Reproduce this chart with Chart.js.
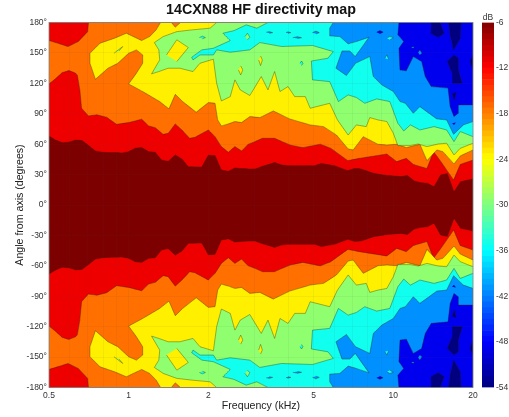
<!DOCTYPE html>
<html>
<head>
<meta charset="utf-8">
<title>14CXN88 HF directivity map</title>
<script src="https://cdn.jsdelivr.net/npm/chart.js@4"></script>
<style>
  html, body { margin: 0; padding: 0; background: #fff; }
  canvas { position: absolute; top: 0; filter: blur(0.35px); }
  #map { left: 0; }
  #bar { left: 470px; }
</style>
</head>
<body>
<canvas id="map" width="509" height="417"></canvas>
<canvas id="bar" width="39" height="417"></canvas>
<script>
// contour lines, [kHz, degrees], upper half only (the map is mirrored at 0 deg)
const darkRedEdge = [[.5,68],[.53,64],[.561,61.5],[.595,62],[.63,64],[.667,63.5],[.707,58.5],[.749,53.3],[.794,52],[.841,51.7],[.944,51.3],[1,52.6],[1.06,56],[1.12,56.6],[1.19,52.6],[1.26,52],[1.33,44.4],[1.41,43],[1.5,49.4],[1.59,45.4],[1.68,37.8],[1.89,37.5],[2,49],[2.12,48.7],[2.24,34.5],[2.38,33.2],[2.52,36.5],[2.67,35.9],[2.83,35.5],[3,35.5],[3.17,37.8],[3.56,41.8],[3.78,39.5],[4,38.8],[4.49,38.8],[5.04,38.8],[5.34,41],[5.99,38.8],[6.73,33.9],[7.13,35.9],[7.55,35.5],[8.48,31],[9.51,29],[10.68,28],[11.31,29],[11.99,23.7],[12.7,22],[13.45,21.4],[14.25,18],[15.1,29.6],[16,31],[16.95,13],[17.96,23],[20,25.7]];
const redEdge = [[.5,119.4],[.53,124.7],[.561,130.6],[.595,132.6],[.63,130],[.64,128],[.654,113.5],[.664,95.4],[.705,87.8],[.758,89],[.826,86.5],[.9,79.6],[1,81.3],[1.12,84.6],[1.19,78],[1.26,76.3],[1.35,69.7],[1.41,70.7],[1.5,80],[1.59,74],[1.7,65.8],[1.78,66.8],[2,74],[2.12,67.4],[2.24,57.6],[2.38,52],[2.52,57.6],[2.67,53.3],[2.83,60],[3,62.5],[3.2,65.8],[3.56,65.8],[3.8,62.5],[4.1,59],[4.55,56.6],[5.3,60],[5.8,56],[6.73,43.8],[7.45,46],[9.45,50.3],[10.3,42.8],[11.2,46],[11.9,40],[13.4,36],[14.2,52.6],[15.2,42],[16.9,24.7],[17.9,40],[20,44.4]];
const redCorner = [[.5,180],[.705,180],[.7,171],[.645,161.2],[.59,156.3],[.55,158.9],[.5,162.2]];
const yellowEdge = [[20,54.3],[17.9,48.4],[16.95,40.5],[15.4,52.6],[14.6,54.3],[13.4,43.8],[12.6,59.9],[11.2,56.6],[10.3,59.9],[9.45,59.2],[8.75,59.9],[7.7,67.4],[7.05,54.3],[6.75,55.3],[6.1,69],[5.45,77.3],[4.85,79],[4.06,84.9],[3.52,92.8],[3.13,86.2],[2.87,87.2],[2.67,81.3],[2.52,82.3],[2.38,80],[2.24,78],[2.17,83.9],[2.12,100.3],[2,101],[1.8,91.5],[1.6,102],[1.5,109.2],[1.42,94.8],[1.31,102],[1.13,111.9],[1,119.4],[1.07,130],[1.13,139.8],[1.13,148],[1.07,153],[1,149.7],[.91,139.8],[.835,134.9],[.749,124],[.714,139.8],[.714,149.7],[.78,159.6],[.885,164.5],[.98,169.4],[1.12,162.2],[1.2,166.1],[1.27,172.7],[1.32,180],[1.45,180],[1.5,175.4],[1.57,180],[20,180]];
const greenEdge = [[20,60.9],[17.9,55.9],[16.95,49.4],[15.9,60.9],[14.8,60.2],[13.4,57.6],[12.4,60.2],[11.6,58.6],[10.4,58.6],[10,70.7],[9.45,82.3],[8.75,83.9],[8.15,86.2],[7.9,77.3],[7.25,79],[6.75,69],[6.15,83.9],[5.75,100.3],[4.85,95.4],[4.65,106.9],[4.24,106.9],[4,116.8],[3.73,111.9],[3.56,131.6],[3.36,113.5],[3.17,126.7],[2.87,108],[2.64,113.5],[2.52,123.4],[2.42,106.9],[2.24,102.6],[2.15,120],[2.09,143.8],[1.86,139.8],[1.75,131.6],[1.56,134.9],[1.41,134.9],[1.3,131.6],[1.22,129.3],[1.31,143.1],[1.3,153],[1.25,160.2],[1.35,166.1],[1.52,171],[1.73,172.7],[2.03,174.4],[2.15,180],[20,180]];
const cyanEdge = [[20,67.4],[17.9,72.4],[16.95,62.5],[15.9,74],[14.25,77.3],[12.6,74],[11.6,79],[10.95,73],[10.4,80.6],[9.7,102],[8.65,104.6],[7.8,100.3],[7.25,106],[6.75,108.6],[6.2,102],[5.75,121.7],[4.95,123.4],[4.9,142],[5.66,144.8],[5.93,151.3],[4.95,157.3],[3.78,156.3],[3.13,160.2],[2.87,153],[2.42,150.7],[2.15,153],[2.09,148],[1.86,148],[1.75,143.1],[1.73,145.7],[1.89,153],[2.09,154.6],[2.42,162.2],[2.27,169.4],[2.5,172],[2.78,177.7],[3.05,174.4],[3.36,180],[20,180]];
const azureEdge = [[5.93,180],[5.75,174.4],[5.75,166.8],[6.28,166.1],[6.75,158.9],[7.25,161.2],[8.09,165.5],[7.18,146.4],[6.85,152],[6.4,152],[6.07,134.9],[6.65,127.7],[7.2,139.8],[8.15,146.4],[8.4,126.7],[9.05,118.4],[10,111.9],[10.6,102],[11.1,100.3],[11.9,90.5],[12.6,97],[14.6,84.9],[15.9,83.9],[16.9,69.7],[18.4,79],[20,82.3],[20,180]];
const blueEdge = [[10.5,180],[10.4,167.8],[10.95,161.2],[10.5,154.6],[10.6,133.2],[11.2,132.3],[11.9,146.4],[12.8,141.5],[13.2,126.7],[13.9,116.8],[16.1,115.2],[16.4,97],[16.95,87.2],[17.6,90.5],[17.6,98.7],[20,98.7],[20,180]];
const navyTop = [[13.85,169.4],[14.8,165.5],[15.55,169.4],[15,180],[13.9,180]];
const navyStem = [[16.2,180],[16.4,167.8],[16.9,153],[17.9,164.5],[18,180]];
const navyMid = [[16.7,120],[18.2,120],[17.6,133.2],[17.6,144.8],[16.95,148],[16,141.5],[16.7,130]];
const navyDot = [[16.7,110],[17,103.6],[17.3,111.2]];
const navyRight = [[20,133.2],[19.5,141.5],[20,148]];
// small closed contours
const yellowIslands = [[[1.39,148],[1.52,162.9],[1.68,155.3],[1.52,141.5]],[[2.65,137.2],[2.7,133.2],[2.65,128.3],[2.6,133.2]],[[3.15,147],[3.2,143],[3.15,137.5],[3.1,143]]];
const greenDots = [[[.88,149.7],[.95,156.3],[.92,152]]];
const greenIslands = [[[2.75,166],[2.81,169.4],[2.87,165.5],[2.81,162.9]]];
const cyanDots = [[[1.85,165.2],[1.9,166.5],[1.95,165.2],[1.9,163.9]],[[4.44,139.8],[4.5,142],[4.56,139.8],[4.5,137.5]]];
const cyanIslands = [[[9.45,164.5],[9.7,166.1],[10,165],[9.7,163]],[[9.3,144.8],[9.45,148],[9.6,143.5]]];
const azureIslands = [[[3.31,170.4],[3.4,171],[3.5,170],[3.4,169.4]],[[3.93,170],[4,170.8],[4.1,170],[4,169.4]],[[4.17,165],[4.35,166],[4.5,165],[4.35,164.3]],[[4.95,170],[5.1,171.5],[5.25,170],[5.1,168.8]],[[12.4,150.7],[12.6,153],[12.85,149.7],[12.6,148]],[[11.7,155.3],[11.9,156.3],[12,155],[11.85,154.5]]];
const blueIslands = [[[8.65,170.4],[8.9,172],[9.15,170.4],[8.9,168.8]],[[16.7,80.6],[16.95,79],[17.2,81.3]]];

const angleTicks = [-180,-150,-120,-90,-60,-30,0,30,60,90,120,150,180];
const freqTicks = [.5,.6,.7,.8,.9,1,2,3,4,5,6,7,8,9,10,20];
const freqLabels = [.5,1,2,5,10,20];
const barTicks = [-54,-48,-42,-36,-30,-24,-18,-12,-6];
const barLevels = [-54,-53.25,-52.5,-51.75,-51,-50.25,-49.5,-48.75,-48,-47.25,-46.5,-45.75,-45,-44.25,-43.5,-42.75,-42,-41.25,-40.5,-39.75,-39,-38.25,-37.5,-36.75,-36,-35.25,-34.5,-33.75,-33,-32.25,-31.5,-30.75,-30,-29.25,-28.5,-27.75,-27,-26.25,-25.5,-24.75,-24,-23.25,-22.5,-21.75,-21,-20.25,-19.5,-18.75,-18,-17.25,-16.5,-15.75,-15,-14.25,-13.5,-12.75,-12,-11.25,-10.5,-9.75,-9,-8.25,-7.5,-6.75,-6];

const C = { darkRed: '#7c0000', red: '#ee0000', orange: '#ff7000', yellow: '#fff000', green: '#8fff70', cyan: '#10ffee', azure: '#0090ff', blue: '#0000ee', navy: '#000080' };

// jet colormap for the colour bar
function jet(i) {
  const t = (i + 0.5) / 64;
  const f = c => Math.round(255 * Math.max(0, Math.min(1, 1.5 - Math.abs(4 * t - c))));
  return `rgb(${f(3)},${f(2)},${f(1)})`;
}

const mirror = pts => pts.map(([f, a]) => [f, -a]);
const closeToTop = pts => [[20, pts[pts.length - 1][1]], [20, 180], [.5, 180]];

// painted in this order, hot first, cooler regions on top
let layers = [[C.darkRed, [[.5,-180],[20,-180],[20,180],[.5,180]]]];
const add = (color, pts) => { layers.push([color, pts]); layers.push([color, mirror(pts)]); };
add(C.red, darkRedEdge.concat(closeToTop(darkRedEdge)));
add(C.orange, redEdge.concat(closeToTop(redEdge)));
add(C.red, redCorner);
add(C.yellow, yellowEdge);
greenDots.forEach(p => add(C.green, p));
add(C.green, greenEdge);
yellowIslands.forEach(p => add(C.yellow, p));
cyanDots.forEach(p => add(C.cyan, p));
add(C.cyan, cyanEdge);
greenIslands.forEach(p => add(C.green, p));
azureIslands.slice(0, 4).forEach(p => add(C.azure, p));
add(C.azure, azureEdge);
cyanIslands.forEach(p => add(C.cyan, p));
add(C.blue, blueEdge);
azureIslands.slice(4).forEach(p => add(C.azure, p));
blueIslands.forEach(p => add(C.blue, p));
[navyTop, navyStem, navyMid, navyDot, navyRight].forEach(p => add(C.navy, p));

const datasets = layers.map(([color, pts], i) => ({
  data: pts.map(([x, y]) => ({ x, y })),
  showLine: true,
  fill: 'shape',
  tension: 0.0001, // keeps chart.js off the fast line path, it merges points in one pixel column
  backgroundColor: color,
  borderColor: 'rgba(40,30,0,0.5)',
  borderWidth: 0.7,
  pointRadius: 0,
  order: layers.length - i
}));

const frame = {
  id: 'frame',
  afterDraw(chart) {
    const { ctx, chartArea: a } = chart;
    ctx.save();
    ctx.strokeStyle = '#888';
    ctx.lineWidth = 0.8;
    ctx.strokeRect(a.left, a.top, a.right - a.left, a.bottom - a.top);
    ctx.restore();
  }
};

new Chart(document.getElementById('map'), {
  type: 'scatter',
  data: { datasets },
  plugins: [frame],
  options: {
    responsive: false,
    animation: false,
    layout: { padding: { right: 36 } },
    plugins: {
      legend: { display: false },
      tooltip: { enabled: false },
      title: {
        display: true,
        fullSize: false,
        text: '14CXN88 HF directivity map',
        color: '#111',
        font: { family: 'Liberation Sans', size: 14.3, weight: 'bold' },
        padding: { top: 1.5, bottom: 3.84 }
      }
    },
    scales: {
      x: {
        type: 'logarithmic',
        min: .5,
        max: 20,
        afterBuildTicks: s => { s.ticks = freqTicks.map(value => ({ value })); },
        afterFit: s => { s.height = 29.5; },
        grid: { color: 'rgba(60,60,60,0.06)', z: 1, drawTicks: false },
        border: { display: false },
        ticks: {
          autoSkip: false,
          maxRotation: 0,
          padding: 3,
          color: '#333',
          font: { family: 'Liberation Sans', size: 8.5 },
          callback: v => freqLabels.includes(v) ? String(v) : ''
        },
        title: { display: true, text: 'Frequency (kHz)', color: '#222', padding: { top: 0, bottom: 5 }, font: { family: 'Liberation Sans', size: 10.6 } }
      },
      y: {
        min: -180,
        max: 180,
        afterBuildTicks: s => { s.ticks = angleTicks.map(value => ({ value })); },
        afterFit: s => { s.width = 49; },
        grid: { color: 'rgba(60,60,60,0.06)', z: 1, drawTicks: false },
        border: { display: false },
        ticks: {
          padding: 2,
          color: '#333',
          font: { family: 'Liberation Sans', size: 8.5 },
          callback: v => v + '°'
        },
        title: { display: true, text: 'Angle from axis (degrees)', color: '#222', padding: { top: 14, bottom: 0 }, font: { family: 'Liberation Sans', size: 10.6 } }
      }
    }
  }
});

new Chart(document.getElementById('bar'), {
  type: 'bar',
  data: {
    labels: ['dB'],
    datasets: barLevels.slice(0, -1).map((lo, i) => ({
      data: [[lo, barLevels[i + 1]]],
      backgroundColor: jet(i),
      barPercentage: 1,
      categoryPercentage: 1
    }))
  },
  options: {
    responsive: false,
    animation: false,
    layout: { padding: { left: 12, bottom: 29.5 } },
    plugins: {
      legend: { display: false },
      tooltip: { enabled: false },
      title: {
        display: true,
        fullSize: false,
        text: 'dB',
        color: '#333',
        font: { family: 'Liberation Sans', size: 8.5, weight: 'normal' },
        padding: { top: 12.3, bottom: 0 }
      }
    },
    scales: {
      x: { stacked: true, display: false },
      y: {
        position: 'right',
        min: -54,
        max: -6,
        afterBuildTicks: s => { s.ticks = barTicks.map(value => ({ value })); },
        afterFit: s => { s.width = 15; },
        grid: { display: false, drawTicks: false },
        border: { display: false },
        ticks: { padding: 2, color: '#333', font: { family: 'Liberation Sans', size: 8.5 } }
      }
    }
  }
});
</script>
</body>
</html>
